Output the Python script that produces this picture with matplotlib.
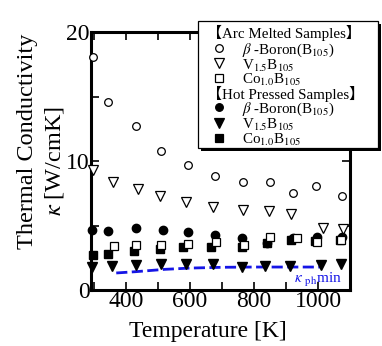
import matplotlib
matplotlib.use('Agg')
import matplotlib.pyplot as plt
from matplotlib.lines import Line2D
from matplotlib.patches import Rectangle
from matplotlib.ticker import MultipleLocator

plt.rcParams['font.family'] = ['Liberation Serif', 'Noto Sans CJK JP']
plt.rcParams['mathtext.fontset'] = 'stix'

# Arc melted samples
T_am_b = [297, 344, 431, 509, 594, 678, 766, 850, 922, 994, 1075]
k_am_b = [18.1, 14.6, 12.7, 10.8, 9.7, 8.8, 8.4, 8.4, 7.5, 8.1, 7.3]
T_am_v = [297, 359, 437, 506, 588, 672, 766, 847, 916, 1016, 1078]
k_am_v = [9.3, 8.4, 7.8, 7.3, 6.8, 6.4, 6.2, 6.1, 5.9, 4.8, 4.7]
T_am_co = [362, 431, 509, 594, 681, 769, 850, 934, 997, 1072]
k_am_co = [3.4, 3.5, 3.5, 3.6, 3.7, 3.5, 4.1, 4.0, 3.7, 3.9]

# Hot pressed samples
T_hp_b = [294, 344, 431, 516, 594, 678, 763, 841, 922, 997, 1075]
k_hp_b = [4.65, 4.57, 4.8, 4.65, 4.5, 4.26, 4.03, 3.64, 4.03, 4.1, 4.1]
T_hp_v = [294, 356, 431, 509, 588, 672, 763, 834, 913, 1009, 1072]
k_hp_v = [1.8, 1.86, 1.94, 2.02, 2.02, 2.02, 1.78, 1.86, 1.86, 1.94, 2.02]
T_hp_co = [297, 344, 425, 506, 578, 666, 763, 841, 916, 991, 1069]
k_hp_co = [2.7, 2.8, 3.0, 3.2, 3.33, 3.33, 3.33, 3.64, 3.88, 3.8, 3.9]

# minimum phonon thermal conductivity
T_min = [369, 430, 520, 600, 700, 800, 900, 1006]
k_min = [1.32, 1.42, 1.6, 1.7, 1.76, 1.78, 1.78, 1.78]

W, H = 382, 346
fig = plt.figure(figsize=(W / 100, H / 100), dpi=100)
ax = fig.add_axes([91 / W, 1 - 290 / H, 259 / W, 258 / H])


def fx(px):
    return px / W


def fy(py):
    return 1 - py / H


ms = 5.5
ax.plot(T_min, k_min, color='#1515e6', lw=2.0, dashes=(4, 1.6), zorder=2)
ax.plot(T_hp_b, k_hp_b, 'o', color='black', ms=ms + 0.5, zorder=3, clip_on=False)
ax.plot(T_hp_v, k_hp_v, 'v', color='black', ms=ms + 1.5, zorder=3, clip_on=False)
ax.plot(T_hp_co, k_hp_co, 's', color='black', ms=ms, zorder=3, clip_on=False)
ax.plot(T_am_b, k_am_b, 'o', mfc='white', mec='black', mew=0.9, ms=ms, zorder=4, clip_on=False)
ax.plot(T_am_v, k_am_v, 'v', mfc='white', mec='black', mew=0.9, ms=ms + 1.5, zorder=4, clip_on=False)
ax.plot(T_am_co, k_am_co, 's', mfc='white', mec='black', mew=0.9, ms=ms, zorder=4, clip_on=False)

ax.text(1000, 0.55, r'$\kappa$ $_{\rm ph}$min', color='#1515e6', fontsize=11, ha='center')

ax.set_xlim(290, 1100)
ax.set_ylim(0, 20)
ax.xaxis.set_major_locator(MultipleLocator(200))
ax.xaxis.set_minor_locator(MultipleLocator(100))
ax.yaxis.set_major_locator(MultipleLocator(10))
ax.yaxis.set_minor_locator(MultipleLocator(5))
ax.tick_params(which='both', direction='in', top=True, right=True, width=1.2)
ax.tick_params(which='major', length=6, labelsize=17, pad=1)
ax.tick_params(which='minor', length=6)
for s in ax.spines.values():
    s.set_linewidth(2.2)

fig.text(fx(27), fy(141), 'Thermal Conductivity', rotation=90, fontsize=17.5,
         ha='center', va='center')
fig.text(fx(55), fy(161), r'$\kappa$ [W/cmK]', rotation=90, fontsize=17.5,
         ha='center', va='center')
fig.text(fx(208), fy(332), 'Temperature [K]', fontsize=17, ha='center', va='center')

# legend box drawn by hand
fig.add_artist(Rectangle((fx(201), fy(151)), (378 - 198) / W, (148 - 21) / H,
                         transform=fig.transFigure, facecolor='black', edgecolor='none', zorder=5))
fig.add_artist(Rectangle((fx(198), fy(148)), (378 - 198) / W, (148 - 21) / H,
                         transform=fig.transFigure, facecolor='white', edgecolor='black',
                         lw=0.9, zorder=6))

hdr = [('【Arc Melted Samples】', 38), ('【Hot Pressed Samples】', 99)]
for txt, yb in hdr:
    fig.text(fx(207), fy(yb), txt, fontsize=10.8, va='baseline', zorder=7)

rows = [
    ('o', True, r'$\beta$ -Boron(B$_{105}$)', 54, 48),
    ('v', True, r'V$_{1.5}$B$_{105}$', 70, 63),
    ('s', True, r'Co$_{1.0}$B$_{105}$', 84, 78),
    ('o', False, r'$\beta$ -Boron(B$_{105}$)', 113, 107),
    ('v', False, r'V$_{1.5}$B$_{105}$', 129, 123),
    ('s', False, r'Co$_{1.0}$B$_{105}$', 144, 138),
]
for mk, hollow, lab, yb, ym in rows:
    size = ms + 1.5 if mk == 'v' else ms
    fig.add_artist(Line2D([fx(219)], [fy(ym)], marker=mk, linestyle='none',
                          mfc='white' if hollow else 'black', mec='black',
                          mew=0.9, ms=size, transform=fig.transFigure, zorder=7))
    fig.text(fx(242), fy(yb), lab, fontsize=10.8, va='baseline', zorder=7)

fig.savefig('out.png', dpi=100)
